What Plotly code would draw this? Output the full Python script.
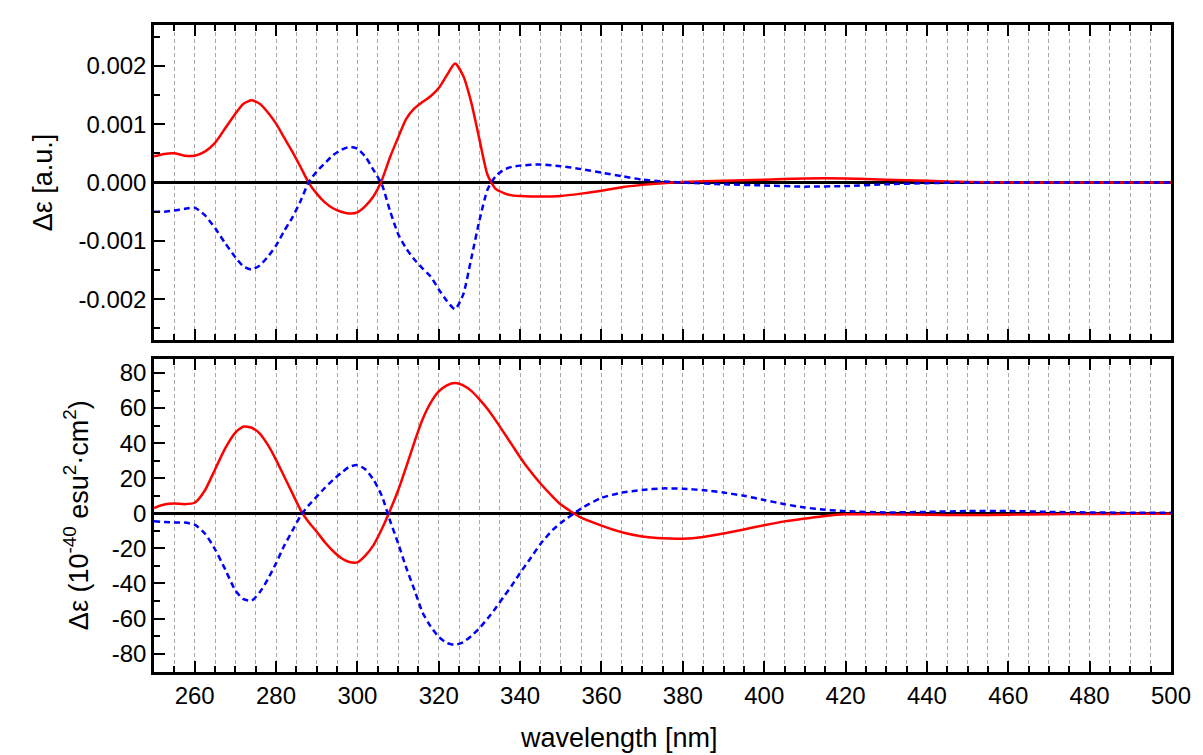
import plotly.graph_objects as go

# ---------------- data ----------------
# upper panel: measured CD spectra (arbitrary units)
wl_cd = [250, 252.5, 255, 257.5, 260, 262.5, 265, 267.5, 270,
         272, 274, 276, 278, 280, 282, 284, 286, 288, 290,
         292, 294, 296, 298, 300, 302, 304, 306, 308, 310,
         312, 314, 316, 318, 320, 322, 324, 326, 328, 330,
         332, 334, 336, 338, 340,
         345, 350, 355, 360, 365, 370, 375, 380,
         390, 400, 410, 420, 430, 440, 450, 460, 470, 480, 490, 500]

cd_red = [0.00045, 0.00049, 0.00050, 0.00046, 0.00046, 0.00053, 0.00068, 0.00093, 0.00118,
          0.00135, 0.00141, 0.00135, 0.00120, 0.00101, 0.00077, 0.00053, 0.00027, 0.00000, -0.00019,
          -0.00034, -0.00044, -0.00050, -0.00053, -0.00051, -0.00040, -0.00023, 0.00004, 0.00043, 0.00077,
          0.00109, 0.00127, 0.00138, 0.00148, 0.00162, 0.00184, 0.00204, 0.00183, 0.00137, 0.00074,
          0.00013, -0.00011, -0.00018, -0.00022, -0.00023,
          -0.00024, -0.00023, -0.00019, -0.00014, -0.00008, -0.00004, -0.00001, 0.00001,
          0.00003, 0.00005, 0.00007, 0.00007, 0.00005, 0.00003, 0.00001, 0.0, 0.0, 0.0, 0.0, 0.0]

cd_blue = [-0.00050, -0.00050, -0.00048, -0.00045, -0.00043, -0.00056, -0.00078, -0.00104, -0.00128,
           -0.00144, -0.00149, -0.00142, -0.00127, -0.00108, -0.00083, -0.00060, -0.00032, 0.00000, 0.00019,
           0.00033, 0.00047, 0.00056, 0.00061, 0.00058, 0.00044, 0.00021, -0.00003, -0.00048, -0.00088,
           -0.00113, -0.00132, -0.00147, -0.00161, -0.00183, -0.00203, -0.00217, -0.00192, -0.00130, -0.00065,
           -0.00012, 0.00011, 0.00022, 0.00027, 0.00029,
           0.00031, 0.00028, 0.00023, 0.00017, 0.00011, 0.00005, 0.00002, 0.00000,
           -0.00003, -0.00005, -0.00007, -0.00006, -0.00003, -0.00001, 0.0, 0.0, 0.0, 0.0, 0.0, 0.0]

# lower panel: calculated rotatory strengths (10^-40 esu^2 cm^2)
wl_calc = [250, 252.5, 255, 257.5, 260, 262.5, 265, 267.5, 270,
           272, 274, 276, 278, 280, 282, 284, 286, 288, 290,
           292, 294, 296, 298, 300, 302, 304, 306, 308, 310,
           312, 314, 316, 318, 320, 322, 324, 326, 328, 330,
           332, 334, 336, 338, 340, 342,
           345, 348, 350,
           355, 360, 365, 370, 375, 380, 385, 390, 395, 400, 405, 410, 415, 420,
           430, 440, 450, 460, 470, 480, 490, 500]

calc_red = [3.0, 5.0, 5.6, 5.2, 6.0, 13.0, 25.0, 37.0, 46.0,
            49.5, 48.8, 45.5, 39.0, 30.5, 21.0, 11.5, 2.0, -5.0, -10.5,
            -16.5, -21.5, -25.5, -27.8, -28.0, -24.0, -18.0, -9.0, 1.5, 13.0,
            26.5, 40.5, 53.5, 63.0, 69.5, 73.0, 74.3, 73.0, 69.8, 65.0,
            59.5, 53.0, 46.0, 39.0, 32.0, 25.5,
            17.0, 9.5, 5.0,
            -2.5, -7.0, -10.8, -13.2, -14.3, -14.5, -13.5, -11.5, -9.2, -6.8, -4.6, -3.0, -1.5, -0.6,
            -0.5, -0.8, -1.0, -0.8, -0.5, -0.4, -0.3, -0.3]

calc_blue = [-4.5, -5.0, -5.2, -5.3, -6.5, -11.5, -20.5, -32.0, -44.0,
             -49.0, -49.8, -45.0, -37.5, -28.5, -18.5, -10.0, -1.5, 4.5, 9.5,
             14.5, 19.0, 23.0, 26.5, 27.5, 25.0, 19.0, 10.0, -4.0, -17.0,
             -31.0, -43.5, -56.5, -64.5, -70.5, -74.0, -75.0, -73.5, -70.0, -65.5,
             -60.0, -54.0, -47.5, -41.0, -34.0, -27.5,
             -17.5, -9.5, -5.5,
             2.7, 8.8, 11.8, 13.3, 14.2, 14.0, 13.2, 11.8, 10.0, 7.6, 5.2, 3.3, 2.0, 1.2,
             0.5, 0.8, 1.3, 1.3, 0.8, 0.5, 0.3, 0.3]

x_tickvals = [260, 280, 300, 320, 340, 360, 380, 400, 420, 440, 460, 480, 500]
x_ticktext = ["260", "280", "300", "320", "340", "360", "380", "400", "420", "440", "460", "480", "500"]

cd_tickvals = [-0.002, -0.001, 0.0, 0.001, 0.002]
cd_ticktext = ["-0.002", "-0.001", "0.000", "0.001", "0.002"]

calc_tickvals = [-80, -60, -40, -20, 0, 20, 40, 60, 80]
calc_ticktext = ["-80", "-60", "-40", "-20", "0", "20", "40", "60", "80"]

# ---------------- styling ----------------
FONT = "Arial, Liberation Sans, sans-serif"
RED = "#ff0000"
BLUE = "#0000ff"
GRID = "#a8a8a8"

fig = go.Figure()

red_line = dict(color=RED, width=2.5, shape="spline", smoothing=0.6)
blue_line = dict(color=BLUE, width=2.5, dash="6px,4px", shape="spline", smoothing=0.6)

fig.add_trace(go.Scatter(x=wl_cd, y=cd_red, mode="lines", line=red_line,
                         xaxis="x", yaxis="y"))
fig.add_trace(go.Scatter(x=wl_cd, y=cd_blue, mode="lines", line=blue_line,
                         xaxis="x", yaxis="y"))
fig.add_trace(go.Scatter(x=wl_calc, y=calc_red, mode="lines", line=red_line,
                         xaxis="x2", yaxis="y2"))
fig.add_trace(go.Scatter(x=wl_calc, y=calc_blue, mode="lines", line=blue_line,
                         xaxis="x2", yaxis="y2"))

xaxis_common = dict(
    range=[250, 500],
    tickmode="array", tickvals=x_tickvals, ticktext=x_ticktext,
    ticks="inside", ticklen=11, tickwidth=2, tickcolor="black",
    showline=True, linewidth=2.5, linecolor="black", mirror="ticks",
    showgrid=True, gridcolor=GRID, gridwidth=1, griddash="4px,3px",
    zeroline=False,
    minor=dict(tick0=250, dtick=5, ticks="inside", ticklen=6, tickwidth=2,
               tickcolor="black", showgrid=True, gridcolor=GRID, gridwidth=1,
               griddash="4px,3px"),
    tickfont=dict(family=FONT, size=24, color="black"),
)

yaxis_common = dict(
    ticks="inside", ticklen=11, tickwidth=2, tickcolor="black",
    showline=True, linewidth=2.5, linecolor="black", mirror=True,
    showgrid=False,
    zeroline=True, zerolinecolor="black", zerolinewidth=3,
    tickfont=dict(family=FONT, size=24, color="black"),
    tickmode="array",
)

fig.update_layout(
    width=1203, height=755,
    margin=dict(l=154, r=23, t=25, b=83),
    paper_bgcolor="white", plot_bgcolor="white",
    showlegend=False,
    font=dict(family=FONT, color="black"),
    xaxis=dict(xaxis_common, anchor="y", showticklabels=False, matches="x2"),
    yaxis=dict(yaxis_common, domain=[0.513, 1.0], range=[-0.0027, 0.0027],
               tickvals=cd_tickvals, ticktext=cd_ticktext,
               minor=dict(tick0=0, dtick=0.0005, ticks="inside", ticklen=6,
                          tickwidth=2, tickcolor="black")),
    xaxis2=dict(xaxis_common, anchor="y2"),
    yaxis2=dict(yaxis_common, domain=[0.0, 0.4838], range=[-90.5, 88],
                tickvals=calc_tickvals, ticktext=calc_ticktext,
                minor=dict(tick0=0, dtick=10, ticks="inside", ticklen=6,
                           tickwidth=2, tickcolor="black")),
)

# axis titles
fig.add_annotation(text="wavelength [nm]", xref="paper", yref="paper",
                   x=0.457, y=-0.102, xanchor="center", yanchor="middle",
                   showarrow=False, font=dict(family=FONT, size=27, color="black"))
fig.add_annotation(text="Δε [a.u.]", xref="paper", yref="paper",
                   x=-0.109, y=0.757, xanchor="center", yanchor="middle",
                   textangle=-90, showarrow=False,
                   font=dict(family=FONT, size=27, color="black"))
fig.add_annotation(text="Δε (10<sup>-40</sup> esu<sup>2</sup>·cm<sup>2</sup>)",
                   xref="paper", yref="paper",
                   x=-0.076, y=0.242, xanchor="center", yanchor="middle",
                   textangle=-90, showarrow=False,
                   font=dict(family=FONT, size=27, color="black"))

fig.write_html("out.html")
